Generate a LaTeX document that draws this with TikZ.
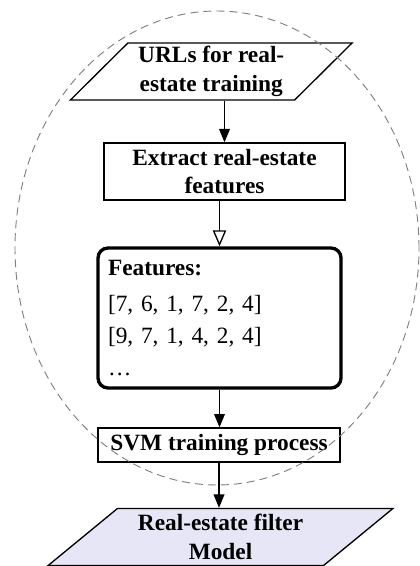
\documentclass[tikz,border=0pt]{standalone}
\usepackage{fontspec}
\setmainfont{Liberation Serif}
\usetikzlibrary{shapes.geometric,arrows.meta}
\definecolor{modelfill}{RGB}{230,230,246}
\definecolor{ringgray}{RGB}{128,128,128}

\begin{document}
\begin{tikzpicture}[x=0.75pt,y=-0.75pt,
   txt/.style={font=\fontsize{17.5}{21.5}\selectfont\bfseries,align=center},
   box/.style={txt,draw,line width=1pt,inner sep=0pt},
   para/.style={txt,draw,line width=1pt,trapezium,trapezium stretches=true,
     inner sep=0pt,minimum height=42.75pt},
   featbox/.style={draw,line width=2.5pt,rounded corners=7.5pt,align=left,
     text width=167.25pt,inner xsep=7.5pt,minimum height=105pt,
     font=\fontsize{17.5}{24}\selectfont},
   arr/.style={line width=1pt,-{Triangle[length=10pt,width=8pt]}},
   hollowarr/.style={line width=1pt,-{Triangle[open,length=12pt,width=10pt]}}]
 \useasboundingbox (0,0) rectangle (419,566);
 \node[para,trapezium left angle=45,trapezium right angle=135,
   minimum width=211.5pt] (urls) at (211.25,71.5) {URLs for real-\\estate training};
 \node[box,minimum width=180.75pt,minimum height=42.75pt] (extract) at (224.5,171.5)
   {Extract real-estate\\features};
 \node[featbox] (feat) at (219.5,318)
   {\textbf{Features:}\\[3pt] {[7, 6, 1, 7, 2, 4]}\\ {[9, 7, 1, 4, 2, 4]}\\ \ldots};
 \node[box,minimum width=181.5pt,minimum height=25.5pt] (svm) at (219,445)
   {SVM training process};
 \node[para,fill=modelfill,trapezium left angle=39.2,trapezium right angle=140.8,
   minimum width=258.75pt] (model) at (220.5,537) {Real-estate filter\\Model};
 % flow
 \draw[arr] (urls.south -| extract.north) -- (extract.north);
 \draw[hollowarr] (extract.south -| feat.north) -- (feat.north);
 \draw[arr] (feat.south) -- (feat.south |- svm.north);
 \draw[arr] (svm.south) -- (svm.south |- model.north);
 % training scope
 \draw[ringgray,line width=0.7pt,dash pattern=on 6pt off 3.75pt]
   (217,248) ellipse [x radius=151.5pt,y radius=177.75pt];
\end{tikzpicture}
\end{document}
